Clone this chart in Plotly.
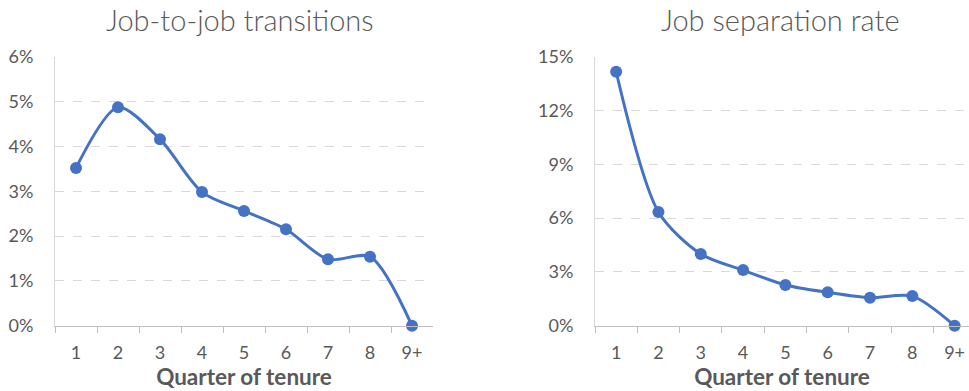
import plotly.graph_objects as go

# Tenure categories and series values (percent)
quarters = ["1", "2", "3", "4", "5", "6", "7", "8", "9+"]
job_to_job = [3.52, 4.87, 4.16, 2.98, 2.56, 2.15, 1.48, 1.54, 0.0]
separation = [14.16, 6.34, 4.0, 3.10, 2.27, 1.86, 1.56, 1.65, 0.0]

left_ticks = [0, 1, 2, 3, 4, 5, 6]
right_ticks = [0, 3, 6, 9, 12, 15]

BLUE = "#4472C4"
GRID = "#d9d9d9"
TEXT = "#595959"
FONT = "Lato"
W, H = 969, 391

fig = go.Figure()

for y, xa, ya in [(job_to_job, "x", "y"), (separation, "x2", "y2")]:
    fig.add_trace(go.Scatter(
        x=quarters, y=y, mode="lines+markers",
        line=dict(color=BLUE, width=3, shape="spline", smoothing=0.8),
        marker=dict(color=BLUE, size=12),
        cliponaxis=False, xaxis=xa, yaxis=ya, showlegend=False,
    ))

xcommon = dict(
    type="category", showgrid=False, showline=True, linecolor="#bfbfbf", linewidth=1,
    ticks="outside", tickson="boundaries", ticklen=6, tickcolor="#bfbfbf",
    tickfont=dict(family=FONT, size=18, color=TEXT), ticklabelstandoff=11,
    title=dict(text="<b>Quarter of tenure</b>", font=dict(family=FONT, size=22.5, color=TEXT),
               standoff=0),
    zeroline=False, fixedrange=True, automargin=False,
)
ycommon = dict(
    showgrid=True, gridcolor=GRID, griddash="dash", gridwidth=1,
    showline=True, linecolor=GRID, linewidth=1, zeroline=False,
    tickfont=dict(family=FONT, size=18, color=TEXT),
    ticks="outside", ticklen=17, tickcolor="rgba(0,0,0,0)", automargin=False,
)

def pct(vals):
    return [f"{v}%" for v in vals]

fig.update_layout(
    width=W, height=H,
    margin=dict(l=0, r=0, t=0, b=0, autoexpand=False),
    paper_bgcolor="white", plot_bgcolor="white",
    xaxis=dict(xcommon, domain=[55 / W, 433 / W], range=[-0.5, 8.5], anchor="y"),
    yaxis=dict(ycommon, domain=[65.3 / H, 334.3 / H], range=[0, 6],
               tickvals=left_ticks, ticktext=pct(left_ticks), anchor="x"),
    xaxis2=dict(xcommon, domain=[595 / W, 1.0], range=[-0.5, 8.34], anchor="y2"),
    yaxis2=dict(ycommon, domain=[65.3 / H, 334.3 / H], range=[0, 15],
                tickvals=right_ticks, ticktext=pct(right_ticks), anchor="x2"),
    annotations=[
        dict(text="Job-to-job transitions", x=240 / W, y=(H - 20) / H,
             xref="paper", yref="paper", xanchor="center", yanchor="middle",
             showarrow=False, font=dict(family=FONT, size=29, color=TEXT, weight=300)),
        dict(text="Job separation rate", x=780 / W, y=(H - 20) / H,
             xref="paper", yref="paper", xanchor="center", yanchor="middle",
             showarrow=False, font=dict(family=FONT, size=29, color=TEXT, weight=300)),
    ],
)

fig.write_html("out.html")
